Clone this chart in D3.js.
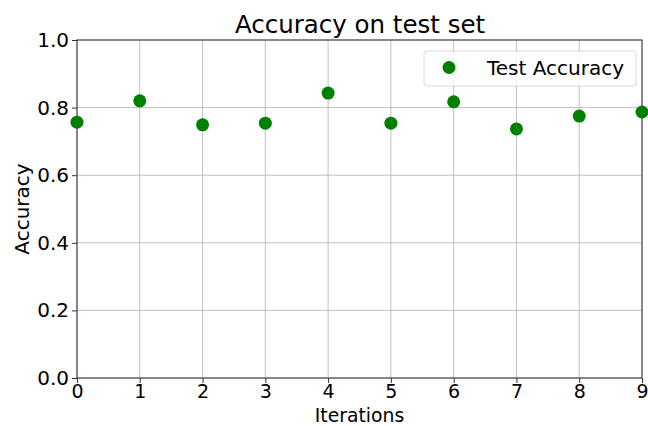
<!DOCTYPE html>
<html><head><meta charset="utf-8">
<script src="https://cdn.jsdelivr.net/npm/d3@7"></script>
<style>body{margin:0;background:#fff}svg{display:block}text{font-family:"DejaVu Sans",sans-serif;fill:#000}</style>
</head><body><svg id="c" width="648" height="426"></svg>
<script>
const iterations = [0,1,2,3,4,5,6,7,8,9];
const accuracy = [0.757,0.820,0.749,0.754,0.843,0.754,0.817,0.737,0.775,0.787];
const xTicks = [0,1,2,3,4,5,6,7,8,9];
const yTicks = [0.0,0.2,0.4,0.6,0.8,1.0];

const svg = d3.select("#c");
const L=77, R=642, T=40, B=378;
const x = d3.scaleLinear().domain([0,9]).range([L,R]);
const y = d3.scaleLinear().domain([0,1]).range([B,T]);

// grid
svg.append("g").selectAll("line").data(xTicks).join("line")
  .attr("x1",d=>x(d)).attr("x2",d=>x(d)).attr("y1",T).attr("y2",B)
  .attr("stroke","#b0b0b0").attr("stroke-width",0.8);
svg.append("g").selectAll("line").data(yTicks).join("line")
  .attr("x1",L).attr("x2",R).attr("y1",d=>y(d)).attr("y2",d=>y(d))
  .attr("stroke","#b0b0b0").attr("stroke-width",0.8);

// axes
const xAxis = svg.append("g").attr("transform",`translate(0,${B})`)
  .call(d3.axisBottom(x).tickValues(xTicks).tickFormat(d3.format("d")).tickSize(5).tickPadding(2));
const yAxis = svg.append("g").attr("transform",`translate(${L},0)`)
  .call(d3.axisLeft(y).tickValues(yTicks).tickFormat(d3.format(".1f")).tickSize(5).tickPadding(3));
[xAxis,yAxis].forEach(a=>{
  a.select(".domain").remove();
  a.selectAll("line").attr("stroke","#333").attr("stroke-width",1);
  a.selectAll("text").attr("fill","#000").style("font-family","DejaVu Sans");
});
xAxis.selectAll("text").attr("font-size",19);
yAxis.selectAll("text").attr("font-size",20);
// frame
svg.append("rect").attr("x",L).attr("y",T).attr("width",R-L).attr("height",B-T)
  .attr("fill","none").attr("stroke","#333").attr("stroke-width",1);

// points
svg.append("g").selectAll("circle").data(iterations).join("circle")
  .attr("cx",d=>x(d)).attr("cy",(d,i)=>y(accuracy[i])).attr("r",6.5).attr("fill","#008000");

// title & labels
svg.append("text").attr("x",(L+R)/2+0.5).attr("y",33).attr("text-anchor","middle").attr("font-size",24.5).text("Accuracy on test set");
svg.append("text").attr("x",(L+R)/2).attr("y",421.5).attr("text-anchor","middle").attr("font-size",18.8).text("Iterations");
svg.append("text").attr("transform",`translate(29,${(T+B)/2}) rotate(-90)`).attr("text-anchor","middle").attr("font-size",20).text("Accuracy");

// legend
const lg = svg.append("g");
lg.append("rect").attr("x",424).attr("y",51).attr("width",212).attr("height",35).attr("rx",3)
  .attr("fill","#fff").attr("fill-opacity",0.8).attr("stroke","#d8d8d8").attr("stroke-width",1);
lg.append("circle").attr("cx",449).attr("cy",67.5).attr("r",6.5).attr("fill","#008000");
lg.append("text").attr("x",487).attr("y",75).attr("font-size",20).text("Test Accuracy");
</script></body></html>
